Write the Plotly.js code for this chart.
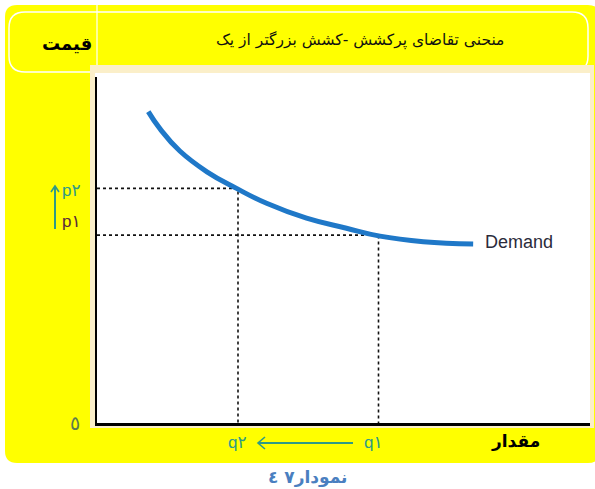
<!DOCTYPE html>
<html>
<head>
<meta charset="utf-8">
<script src="https://cdn.plot.ly/plotly-3.0.1.min.js"></script>
<style>
  html, body { margin: 0; padding: 0; background: #ffffff; }
  #chart { width: 595px; height: 489px; }
</style>
</head>
<body>
<div id="chart"></div>
<script>
// Demand curve (quantity, price) on a 0–10 scale
const demandQ = [1.04, 1.28, 1.68, 2.23, 2.83, 3.44, 4.25, 5.06, 5.74, 6.62, 7.63];
const demandP = [9.00, 8.50, 7.86, 7.26, 6.78, 6.35, 5.92, 5.63, 5.40, 5.24, 5.17];

// Two price/quantity pairs on the curve
const qValues = [5.71, 2.86];   // q1, q2
const pValues = [5.43, 6.78];   // p1, p2

const titleText = 'منحنی تقاضای پرکشش -کشش بزرگتر از یک';
const priceLabel = 'قیمت';
const qtyLabel = 'مقدار';
const originLabel = '٥';
const pLabels = ['p۱', 'p۲'];
const qLabels = ['q۱', 'q۲'];
const curveLabel = 'Demand';
const caption = 'نمودار۷ ٤';

// Plot area in page pixels
const L = 97, T = 77, W = 493, H = 346;
const M = {l: L, r: 595 - L - W, t: T, b: 489 - T - H};
const px = x => (x - L) / W;
const py = y => (T + H - y) / H;

function rrect(x0, y0, x1, y1, r) {
  return 'M' + px(x0 + r) + ',' + py(y0) +
    ' L' + px(x1 - r) + ',' + py(y0) +
    ' Q' + px(x1) + ',' + py(y0) + ' ' + px(x1) + ',' + py(y0 + r) +
    ' L' + px(x1) + ',' + py(y1 - r) +
    ' Q' + px(x1) + ',' + py(y1) + ' ' + px(x1 - r) + ',' + py(y1) +
    ' L' + px(x0 + r) + ',' + py(y1) +
    ' Q' + px(x0) + ',' + py(y1) + ' ' + px(x0) + ',' + py(y1 - r) +
    ' L' + px(x0) + ',' + py(y0 + r) +
    ' Q' + px(x0) + ',' + py(y0) + ' ' + px(x0 + r) + ',' + py(y0) + ' Z';
}

const teal = '#2f9a86';
const dotted = {color: '#111111', width: 1.6, dash: 'dot'};

const traces = [
  // p2 guide lines
  {x: [0, qValues[1], qValues[1]], y: [pValues[1], pValues[1], 0], mode: 'lines',
   line: dotted, hoverinfo: 'skip', showlegend: false},
  // p1 guide lines
  {x: [0, qValues[0], qValues[0]], y: [pValues[0], pValues[0], 0], mode: 'lines',
   line: dotted, hoverinfo: 'skip', showlegend: false},
  // demand curve
  {x: demandQ, y: demandP, mode: 'lines',
   line: {color: '#1f78c8', width: 5, shape: 'spline', smoothing: 1.3},
   hoverinfo: 'skip', showlegend: false}
];

const shapes = [
  // yellow panel
  {type: 'path', xref: 'paper', yref: 'paper', layer: 'below',
   path: rrect(5, 5, 600, 463, 12), fillcolor: '#ffff00', line: {width: 0}},
  // title band border
  {type: 'path', xref: 'paper', yref: 'paper', layer: 'below',
   path: rrect(9, 12, 588, 72, 16), fillcolor: 'rgba(0,0,0,0)',
   line: {color: '#ffffff', width: 1.5}},
  {type: 'line', xref: 'paper', yref: 'paper', layer: 'below',
   x0: px(97), x1: px(97), y0: py(5), y1: py(66), line: {color: '#ffffff', width: 1.2}},
  // beige frame and white chart area
  {type: 'rect', xref: 'paper', yref: 'paper', layer: 'below',
   x0: px(90), x1: px(594), y0: py(65), y1: py(428), fillcolor: '#fbefc9', line: {width: 0}},
  {type: 'rect', xref: 'paper', yref: 'paper', layer: 'below',
   x0: px(95), x1: px(590), y0: py(73), y1: py(426), fillcolor: '#ffffff', line: {width: 0}},
  // price direction arrow
  {type: 'line', xref: 'paper', yref: 'paper',
   x0: px(55), x1: px(55), y0: py(229), y1: py(187), line: {color: teal, width: 2}},
  {type: 'path', xref: 'paper', yref: 'paper',
   path: 'M' + px(51) + ',' + py(192) + ' L' + px(55) + ',' + py(186) + ' L' + px(59) + ',' + py(192),
   line: {color: teal, width: 1.6}},
  // quantity direction arrow
  {type: 'line', xref: 'paper', yref: 'paper',
   x0: px(353), x1: px(258), y0: py(443), y1: py(443), line: {color: teal, width: 1.8}},
  {type: 'path', xref: 'paper', yref: 'paper',
   path: 'M' + px(265) + ',' + py(437) + ' L' + px(258) + ',' + py(443) + ' L' + px(265) + ',' + py(449),
   line: {color: teal, width: 1.6}}
];

const ar = 'DejaVu Sans, Noto Sans, sans-serif';
const lat = 'Liberation Sans, Arial, DejaVu Sans, sans-serif';
function ann(text, x, y, font, xanchor) {
  return {text: text, xref: 'paper', yref: 'paper', x: px(x), y: py(y),
          xanchor: xanchor || 'center', yanchor: 'middle', showarrow: false, font: font};
}

const annotations = [
  ann(titleText, 360, 40, {family: ar, size: 15.5, color: '#111111'}),
  ann('<b>' + priceLabel + '</b>', 67, 43, {family: ar, size: 18, color: '#000000'}),
  ann('<b>' + qtyLabel + '</b>', 515, 441, {family: ar, size: 17, color: '#000000'}),
  ann(originLabel, 75, 423, {family: ar, size: 19, color: '#5d7b4f'}),
  ann(pLabels[1], 60, 190, {family: lat, size: 17, color: teal}, 'left'),
  ann(pLabels[0], 60, 221, {family: lat, size: 17, color: '#5a2a3a'}, 'left'),
  ann(qLabels[1], 237, 442, {family: lat, size: 17, color: teal}),
  ann(qLabels[0], 373, 442, {family: lat, size: 17, color: teal}),
  ann(curveLabel, 483, 242, {family: lat, size: 18, color: '#2b2b3b'}, 'left'),
  ann('<b>' + caption + '</b>', 307, 477, {family: ar, size: 17, color: '#4a7fc0'})
];

const axisCommon = {
  range: [0, 10], showgrid: false, zeroline: false, showticklabels: false,
  ticks: '', showline: true, linecolor: '#000000', linewidth: 2.5, fixedrange: true
};

const layout = {
  width: 595, height: 489,
  margin: M,
  paper_bgcolor: '#ffffff',
  plot_bgcolor: 'rgba(0,0,0,0)',
  xaxis: Object.assign({}, axisCommon),
  yaxis: Object.assign({}, axisCommon),
  shapes: shapes,
  annotations: annotations,
  showlegend: false
};

Plotly.newPlot('chart', traces, layout, {displayModeBar: false, staticPlot: true});
</script>
</body>
</html>
